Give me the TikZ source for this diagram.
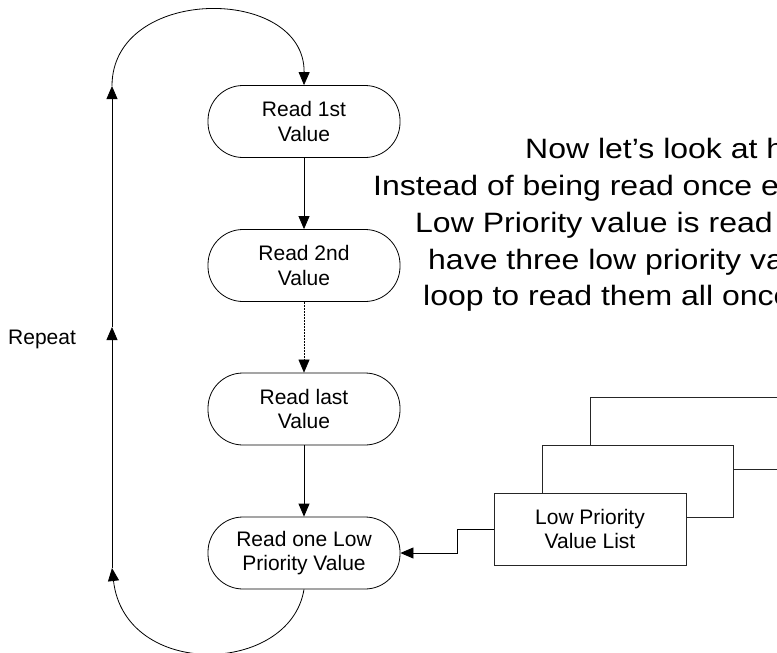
\documentclass[tikz,border=0pt]{standalone}
\usepackage{fontspec}
\usepackage{graphicx}
\setmainfont{Liberation Sans}
\usetikzlibrary{arrows.meta}
\newcommand{\widetxt}[1]{\scalebox{1.143}[1]{#1}}
\begin{document}
\begin{tikzpicture}[x=1pt,y=-1pt,
  proc/.style={draw, line width=0.8pt, rectangle, rounded corners=35pt,
    minimum width=192pt, minimum height=72pt, align=center, inner sep=0pt,
    font=\fontsize{21}{24.5}\selectfont},
  listbox/.style={draw=black!85, fill=white, line width=0.9pt, rectangle,
    minimum width=192pt, minimum height=72pt, inner sep=0pt, align=center,
    font=\fontsize{21}{24.5}\selectfont},
  conn/.style={line width=0.8pt, -{Triangle[length=13pt,width=11pt]}},
  big/.style={anchor=base west, inner sep=0pt, font=\fontsize{28}{32}\selectfont}]
\useasboundingbox (0,0) rectangle (777,653);
\begin{scope}
\clip (0,0) rectangle (777,653);

% flow boxes
\node[proc] (n1) at (304,121.5) {Read 1st\\Value};
\node[proc] (n2) at (304,265.5) {Read 2nd\\Value};
\node[proc] (n3) at (304,409) {Read last\\Value};
\node[proc] (n4) at (304,553) {Read one Low\\Priority Value};

\draw[conn] (n1) -- (n2);
\draw[conn, line width=0.5pt, densely dotted] (n2) -- (n3);
\draw[conn] (n3) -- (n4);

% repeat loop
\coordinate (lt) at (112,86);
\coordinate (lm) at (112,327);
\coordinate (lb) at (112,568);
\draw[conn] (n4.south) .. controls (290,675) and (125,680) .. (lb);
\draw[conn] (lb) -- (lm);
\draw[conn] (lm) -- (lt);
\draw[conn] (lt) .. controls (112,-15) and (305,-15) .. (n1.north);
\node[anchor=base west, inner sep=0pt, font=\fontsize{21}{24.5}\selectfont] (rep) at (8,344) {Repeat};

% stacked list boxes
\node[listbox] (back) at (686,433) {};
\node[listbox, minimum width=191pt] (mid) at (637.5,481.5) {};
\node[listbox] (front) at (590,529) {Low Priority\\Value List};
\draw[conn] (front.west) -- ++(-36,0) |- (n4.east);

% description text (clipped at the right edge)
\node[big] (t1) at (525,158) {\widetxt{Now let’s look at h}};
\node[big] (t2) at (373,195) {\widetxt{Instead of being read once e}};
\node[big] (t3) at (415,232) {\widetxt{Low Priority value is read}};
\node[big] (t4) at (428,269) {\widetxt{have three low priority va}};
\node[big] (t5) at (423,305) {\widetxt{loop to read them all once}};
\end{scope}
\end{tikzpicture}
\end{document}
